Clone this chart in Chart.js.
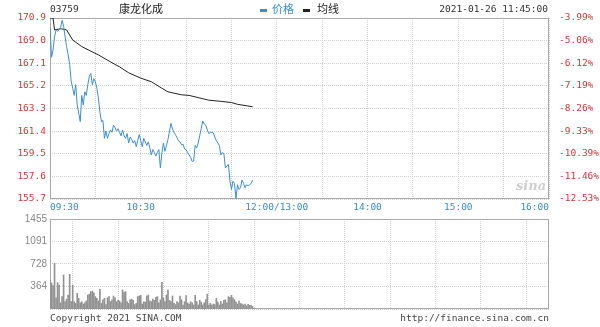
<!DOCTYPE html>
<html>
<head>
<meta charset="utf-8">
<script src="https://cdn.jsdelivr.net/npm/chart.js@4.4.1/dist/chart.umd.min.js"></script>
<style>
  html, body { margin: 0; padding: 0; background: #fff; }
  #wrap { position: relative; width: 600px; height: 327px; overflow: hidden; }
  canvas { position: absolute; left: 0; }
  .t { position: absolute; white-space: nowrap; line-height: 1; }
  .mono { font-family: 'DejaVu Sans Mono', monospace; font-size: 9.5px; color: #333; }
  .cjk { font-family: 'Noto Sans CJK SC', sans-serif; font-size: 11px; color: #222; }
  .dash { position: absolute; width: 7px; height: 3px; }
</style>
</head>
<body>
<div id="wrap">
  <canvas id="priceChart" width="600" height="213" style="top:0"></canvas>
  <canvas id="volumeChart" width="600" height="117" style="top:210px"></canvas>

  <div class="t mono" style="left:50px; top:4px;">03759</div>
  <div class="t cjk" style="left:119px; top:3px;">康龙化成</div>
  <div class="dash" style="left:260px; top:9px; background:#3b8fd3;"></div>
  <div class="t cjk" style="left:272px; top:3px; color:#3b8fd3;">价格</div>
  <div class="dash" style="left:303px; top:9px; background:#222;"></div>
  <div class="t cjk" style="left:317px; top:3px;">均线</div>
  <div class="t mono" style="right:52px; top:4px;">2021-01-26 11:45:00</div>

  <div class="t" style="left:516px; top:179px; font-family:'DejaVu Serif', serif; font-style:italic; font-weight:bold; font-size:13px; color:#cfcfcf;">sina</div>

  <div class="t mono" style="left:50px; top:313px; color:#444;">Copyright 2021 SINA.COM</div>
  <div class="t mono" style="right:51px; top:313px; color:#444;">http://finance.sina.com.cn</div>
</div>

<script>
// 分时价格 (每分钟, 09:30 起)
const prices = [
  170.1, 167.6, 168.2, 169.3, 169.9, 169.8, 169.9, 170.1, 170.7, 170.2,
  169.3, 168.5, 167.8, 167.0, 165.6, 165.0, 164.4, 165.3, 163.6, 162.9,
  162.2, 164.4, 163.6, 164.7, 164.4, 165.3, 166.0, 166.25, 165.3, 165.8,
  165.55, 165.0, 164.2, 163.0, 162.2, 162.3, 160.8, 161.4, 160.8, 161.2,
  161.5, 161.3, 161.9, 161.7, 161.4, 161.6, 161.3, 161.0, 161.5, 161.0,
  160.8, 161.2, 160.4, 160.9, 160.7, 160.4, 160.6, 160.1, 160.6, 161.1,
  160.6, 160.1, 160.8, 160.5, 160.2, 160.5, 160.0, 159.4, 159.85, 159.6,
  159.3, 159.6, 159.85, 158.3, 159.6, 160.4, 159.7, 160.2, 160.7, 161.4,
  162.05, 161.6, 161.3, 161.1, 160.85, 160.6, 160.5, 160.25, 160.3, 159.9,
  159.85, 159.6, 159.4, 159.2, 158.85, 158.9, 160.2, 160.0, 160.4, 161.0,
  161.6, 162.25, 162.0, 161.9, 161.5, 161.2, 161.3, 161.3, 161.25, 160.9,
  160.6, 160.4, 160.2, 159.4, 159.6, 159.5, 158.3, 158.5, 158.6, 157.2,
  156.5, 157.2, 157.0, 155.75, 156.9, 156.5, 156.65, 157.3, 157.0, 156.65,
  156.9, 156.8, 156.9, 157.0, 157.3
];

// 均线 (读数的分钟位置)
const avgTimes  = [0, 2, 3, 7, 11, 15, 21, 32, 43, 46, 52, 60, 67, 74, 78, 87, 92, 105, 113, 120, 124, 134];
const avgValues = [170.9, 170.9, 169.9, 170.0, 169.9, 169.05, 168.5, 167.8, 167.0, 166.8, 166.3,
                   165.85, 165.55, 165.0, 164.7, 164.45, 164.4, 164.0, 163.9, 163.8, 163.65, 163.45];

// 成交量 (每分钟)
const volumes = [
  469, 420, 380, 739, 180, 425, 388, 100, 199, 550,
  118, 160, 226, 561, 120, 388, 118, 90, 253, 172,
  100, 118, 80, 100, 130, 226, 240, 280, 290, 260,
  200, 172, 130, 318, 90, 150, 172, 70, 180, 200,
  120, 150, 210, 180, 118, 140, 130, 100, 307, 270,
  280, 118, 90, 150, 160, 140, 70, 90, 200, 210,
  220, 80, 118, 110, 210, 226, 130, 120, 160, 140,
  190, 200, 100, 150, 431, 180, 120, 226, 307, 140,
  118, 210, 90, 70, 118, 100, 210, 150, 65, 120,
  215, 100, 80, 118, 100, 65, 220, 120, 65, 140,
  110, 65, 100, 150, 240, 65, 90, 65, 80, 70,
  172, 110, 65, 118, 80, 140, 150, 100, 200, 190,
  220, 180, 150, 110, 80, 130, 90, 80, 65, 80,
  50, 75, 60, 60, 40
];

const timeTicks  = [0, 30, 60, 90, 120, 150, 180, 210, 240, 270, 300, 330];
const timeLabels = ['09:30', '', '10:30', '', '', '12:00/13:00', '', '14:00', '', '15:00', '', '16:00'];
const priceTicks = [155.7, 157.6, 159.5, 161.4, 163.3, 165.2, 167.1, 169.0, 170.9];
const pctLabels  = ['-12.53%', '-11.46%', '-10.39%', '-9.33%', '-8.26%', '-7.19%', '-6.12%', '-5.06%', '-3.99%'];
const volTicks   = [0, 364, 728, 1091, 1455];

const monoFont = { family: "'DejaVu Sans Mono', monospace", size: 9.5 };
const gridStyle = { color: '#d2d2d2', drawTicks: false };
const dotted = { display: false, dash: [1, 1] };

// 外框
const frame = {
  id: 'frame',
  beforeDatasetsDraw(chart) {
    const a = chart.chartArea, ctx = chart.ctx;
    ctx.save();
    ctx.strokeStyle = '#a9a9a9';
    ctx.lineWidth = 1;
    ctx.strokeRect(Math.round(a.left) + 0.5, Math.round(a.top) + 0.5,
                   Math.round(a.right - a.left) - 1, Math.round(a.bottom - a.top) - 1);
    ctx.restore();
  }
};

function timeAxis(showLabels) {
  return {
    type: 'linear', min: 0, max: 330, offset: false,
    afterBuildTicks: axis => { axis.ticks = timeTicks.map(v => ({ value: v })); },
    grid: gridStyle, border: dotted,
    ticks: {
      display: showLabels, autoSkip: false, maxRotation: 0, align: 'inner', padding: 3,
      color: '#3a8dc8', font: monoFont,
      callback: (v, i) => timeLabels[i]
    }
  };
}

new Chart(document.getElementById('priceChart'), {
  type: 'line',
  data: {
    datasets: [{
      label: '价格',
      data: prices.map((v, i) => ({ x: i, y: v })),
      borderColor: '#3b8fd3', backgroundColor: '#3b8fd3',
      borderWidth: 1, pointRadius: 0, tension: 0
    }, {
      label: '均线',
      data: avgTimes.map((t, i) => ({ x: t, y: avgValues[i] })),
      borderColor: '#222', backgroundColor: '#222',
      borderWidth: 1, pointRadius: 0, tension: 0
    }]
  },
  options: {
    responsive: false, animation: false,
    layout: { padding: { top: 18, left: 0, right: 0, bottom: 0 } },
    plugins: { legend: { display: false }, tooltip: { enabled: false } },
    scales: {
      x: Object.assign(timeAxis(true), { afterFit: axis => { axis.height = 14; } }),
      y: {
        position: 'left', min: 155.7, max: 170.9,
        afterBuildTicks: axis => { axis.ticks = priceTicks.map(v => ({ value: v })); },
        afterFit: axis => { axis.width = 50; },
        grid: gridStyle, border: dotted,
        ticks: { color: '#d03a3a', font: monoFont, padding: 4, callback: v => v.toFixed(1) }
      },
      y1: {
        position: 'right', min: 155.7, max: 170.9,
        afterBuildTicks: axis => { axis.ticks = priceTicks.map(v => ({ value: v })); },
        afterFit: axis => { axis.width = 51; },
        grid: { display: false }, border: { display: false },
        ticks: { color: '#d03a3a', font: monoFont, padding: 2, callback: (v, i) => pctLabels[i] }
      }
    }
  },
  plugins: [frame]
});

new Chart(document.getElementById('volumeChart'), {
  type: 'bar',
  data: {
    datasets: [{
      label: '成交量',
      data: volumes.map((v, i) => ({ x: i, y: v })),
      backgroundColor: '#929292',
      barThickness: 1
    }]
  },
  options: {
    responsive: false, animation: false,
    layout: { padding: { top: 0, left: 0, right: 51, bottom: 0 } },
    plugins: { legend: { display: false }, tooltip: { enabled: false } },
    scales: {
      x: Object.assign(timeAxis(false), { afterFit: axis => { axis.height = 18; } }),
      y: {
        min: 0, max: 1455,
        afterBuildTicks: axis => { axis.ticks = volTicks.map(v => ({ value: v })); },
        afterFit: axis => { axis.width = 50; },
        grid: gridStyle, border: dotted,
        ticks: {
          color: '#8a8a8a', padding: 3,
          font: { family: "'Liberation Sans', sans-serif", size: 10 },
          callback: (v, i) => i === 0 ? '' : String(v)
        }
      }
    }
  },
  plugins: [frame]
});
</script>
</body>
</html>
